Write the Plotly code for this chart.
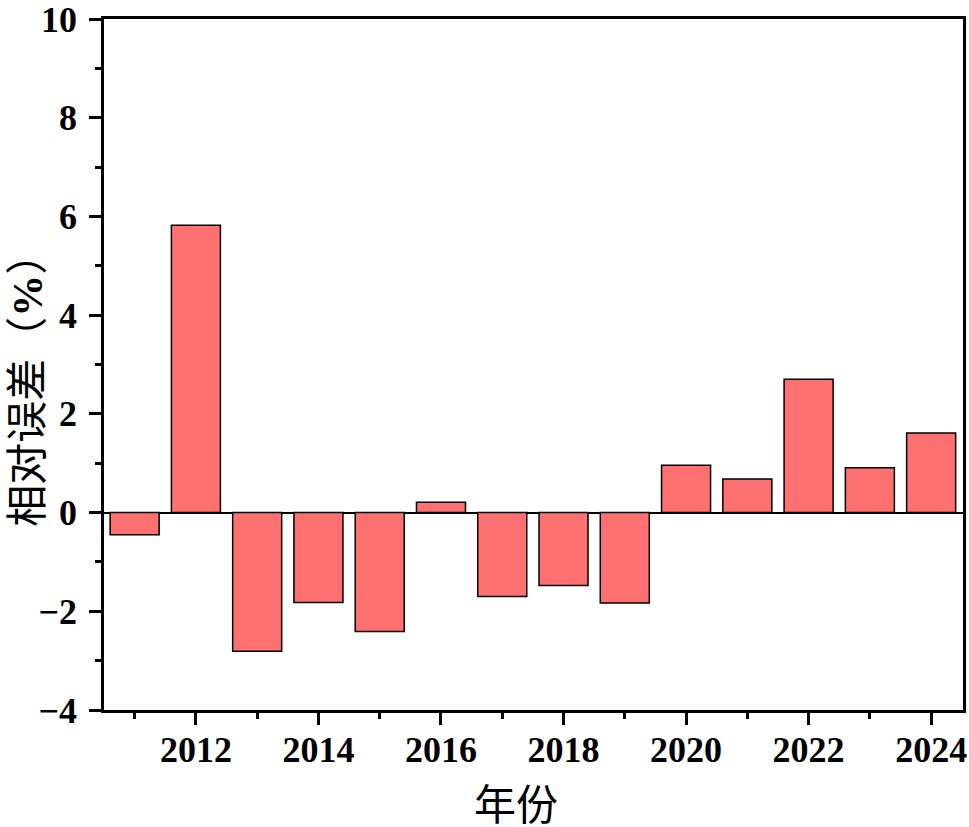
import plotly.graph_objects as go

years = [2011, 2012, 2013, 2014, 2015, 2016, 2017, 2018, 2019, 2020, 2021, 2022, 2023, 2024]
rel_err = [-0.45, 5.82, -2.81, -1.82, -2.41, 0.21, -1.70, -1.48, -1.83, 0.96, 0.68, 2.70, 0.91, 1.61]
x_ticks = [2012, 2014, 2016, 2018, 2020, 2022, 2024]
y_ticks = [-4, -2, 0, 2, 4, 6, 8, 10]
x_title = "年份"
y_title = "相对误差（<span style='font-family:Liberation Serif'><b>%</b></span>）"

fig = go.Figure(go.Bar(
    x=years, y=rel_err, width=0.8,
    marker=dict(color="#FF7070", line=dict(color="black", width=1.5)),
))

tickfont = dict(family="Liberation Serif, Times New Roman, serif", size=36, color="black", weight="bold")
titlefont = dict(family="Noto Sans CJK SC, sans-serif", size=42, color="black")

fig.update_layout(
    width=969, height=827,
    margin=dict(l=104, r=6, t=19, b=117),
    plot_bgcolor="white", paper_bgcolor="white",
    showlegend=False,
)
fig.update_xaxes(
    range=[2010.5, 2024.52],
    tickvals=x_ticks, ticktext=[str(v) for v in x_ticks],
    tickfont=tickfont, ticklabeloverflow="allow", ticklabelstandoff=-6,
    ticks="outside", ticklen=12, tickwidth=2.5, tickcolor="black",
    minor=dict(tick0=2011, dtick=2, ticks="outside", ticklen=6, tickwidth=2.5, tickcolor="black", showgrid=False),
    showline=True, linecolor="black", linewidth=2.5, mirror=True,
    showgrid=False, zeroline=False, automargin=False,
)
fig.update_yaxes(
    range=[-4, 10],
    tickvals=y_ticks, ticktext=["\u22124", "\u22122", "0", "2", "4", "6", "8", "10"],
    tickfont=tickfont, ticklabeloverflow="allow", ticklabelstandoff=5,
    ticks="outside", ticklen=12, tickwidth=2.5, tickcolor="black",
    minor=dict(tick0=-3, dtick=2, ticks="outside", ticklen=6, tickwidth=2.5, tickcolor="black", showgrid=False),
    showline=True, linecolor="black", linewidth=2.5, mirror=True,
    showgrid=False, zeroline=True, zerolinecolor="black", zerolinewidth=2, automargin=False,
)
fig.add_annotation(text=x_title, xref="paper", yref="paper", x=0.48, y=-0.133,
                   xanchor="center", yanchor="middle", showarrow=False, font=titlefont)
fig.add_annotation(text=y_title, xref="paper", yref="paper", x=-0.093, y=0.478, textangle=-90,
                   xanchor="center", yanchor="middle", showarrow=False, font=titlefont)

fig.write_html("out.html", config={"displayModeBar": False},
               post_script="document.body.style.margin='0';document.body.style.overflow='hidden';")
